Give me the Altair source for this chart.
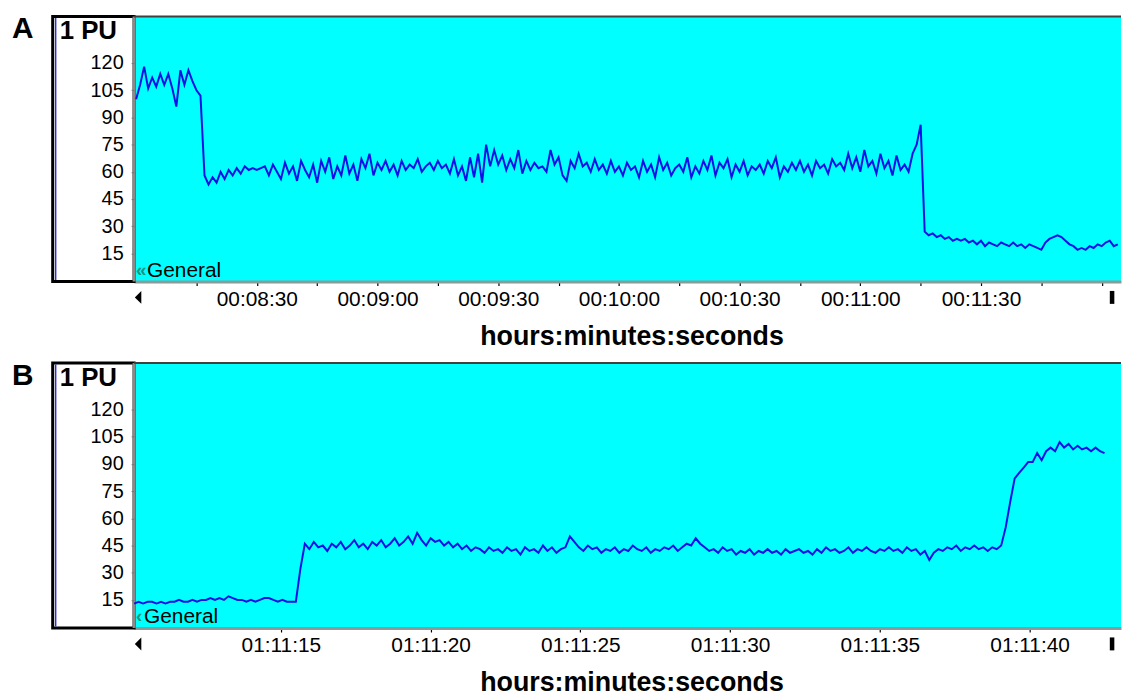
import altair as alt
import pandas as pd

# ---------------- data ----------------
PANEL_LABELS = ["A", "B"]
UNIT_LABEL = "1 PU"
CHANNEL_LABEL = "General"
X_TITLE = "hours:minutes:seconds"
Y_TICKS = [15, 30, 45, 60, 75, 90, 105, 120]

# Panel A: one sample per second, starting 00:08:00 (480 s)
A_START = 480
A_STEP = 1.0
A_VALUES = [
    100, 108, 118, 106, 112, 107, 114, 108, 114, 106, 96, 116, 108, 116, 110, 105, 102, 58,
    53, 57, 54, 60, 56, 61, 58, 62,
    59, 63, 61, 62, 61, 62, 63, 58, 64, 60,
    56, 65, 59, 63, 55, 66, 61, 57, 64, 54,
    66, 60, 68, 56, 63, 58, 69, 59, 64, 55,
    67, 62, 70, 58, 65, 61, 66, 60, 64, 58,
    66, 61, 64, 62, 67, 60, 63, 65, 61, 66,
    62, 64, 59, 67, 58, 63, 55, 68, 57, 70,
    54, 75, 63, 72, 64, 69, 61, 67, 62, 72,
    59, 66, 61, 65, 62, 63, 60, 72, 64, 68,
    58, 55, 66, 62, 70, 63, 65, 60, 67, 61,
    64, 59, 66, 60, 63, 58, 65, 61, 63, 57,
    66, 60, 64, 57, 68, 61, 65, 58, 62, 64,
    60, 68, 57, 63, 59, 66, 61, 69, 58, 65,
    62, 67, 57, 64, 60, 66, 58, 63, 61, 64,
    59, 66, 62, 68, 57, 63, 60, 65, 61, 66,
    60, 64, 58, 66, 62, 64, 59, 67, 63, 65,
    61, 70, 62, 68, 60, 72, 63, 66, 59, 70,
    62, 66, 58, 69, 61, 64, 60, 70, 75, 86,
    27, 25, 26, 24, 25, 23, 24, 22, 23, 22,
    23, 21, 22, 20, 22, 19, 21, 20, 19, 21,
    20, 19, 21, 19, 20, 18, 20, 19, 18, 17,
    21, 23, 24, 25, 24, 22, 20, 19, 17, 18,
    17, 19, 18, 20, 19, 21, 22, 19, 20,
]
A_XDOMAIN = [479.5, 724.8]
A_XTICKS = [495, 510, 525, 540, 555, 570, 585, 600, 615, 630, 645, 660, 675, 690, 705, 720]
A_LABELED = [510, 540, 570, 600, 630, 660, 690]

# Panel B: samples every 0.15 s, starting 01:11:10.1 (4270.1 s)
B_START = 4270.1
B_STEP = 0.15
B_VALUES = [
    13, 14, 13, 14, 14, 13, 14, 13, 14, 14, 15, 14,
    14, 15, 14, 15, 15, 16, 15, 16, 15, 17, 16, 15,
    15, 14, 15, 14, 15, 16, 16, 15, 14, 15, 14, 14,
    14, 32,
    46, 43, 47, 44, 45, 42, 46, 44, 47, 43,
    45, 48, 44, 46, 43, 47, 45, 48, 44, 46,
    49, 45, 47, 50, 46, 52, 48, 45, 49, 47,
    48, 45, 47, 44, 46, 43, 45, 42, 44, 43,
    41, 44, 42, 43, 41, 44, 42, 43, 40, 44,
    42, 43, 41, 45, 42, 44, 41, 43, 44, 50,
    47, 44, 42, 45, 43, 44, 41, 43, 42, 44,
    41, 43, 42, 45, 43, 42, 44, 41, 43, 42,
    44, 43, 45, 42, 44, 46, 45, 49, 46, 44,
    42, 43, 41, 44, 42, 43, 40, 42, 41, 43,
    40, 42, 41, 43, 41, 42, 40, 43, 41, 42,
    43, 41, 42, 40, 43, 41, 44, 42, 43, 41,
    42, 44, 41, 43, 42, 44, 42, 41, 43, 42,
    44, 42, 43, 41, 44, 42, 43, 40, 42, 37,
    41, 43, 42, 44, 43, 45, 42, 44, 43, 45,
    43, 44, 42, 44, 43,
    45, 55, 69, 82, 85, 88, 91, 91, 96, 92, 97, 99, 97, 102, 99, 101, 98, 100, 98, 99, 97, 99, 97, 96,
]
B_XDOMAIN = [4270.1, 4303.05]
B_XTICKS = [4275, 4280, 4285, 4290, 4295, 4300]

Y_DOMAIN = [-0.5, 145.7]

# ---------------- layout / style ----------------
W, H = 994, 267
FONT = "Liberation Sans"
LINE_BLUE = "#1010e6"
CYAN = "#00ffff"


def frame(values, start, step):
    return pd.DataFrame({"t": [start + i * step for i in range(len(values))], "v": values})


def panel(df, xdomain, xticks, label_expr, letter, icon, gen_x):
    one = alt.Data(values=[{"k": 0}])
    base = alt.Chart(one)
    box = base.mark_rect(fill="white", stroke="black", strokeWidth=3).encode(
        x=alt.value(-82), x2=alt.value(0), y=alt.value(0), y2=alt.value(H))
    blue = base.mark_rule(color="#3030d0", strokeWidth=1.5).encode(
        x=alt.value(-79), y=alt.value(1.5), y2=alt.value(H - 1.5))
    leftb = base.mark_rule(color="#8a8a8a", strokeWidth=3).encode(
        x=alt.value(0), y=alt.value(0), y2=alt.value(H))
    topb = base.mark_rule(color="#404040", strokeWidth=2).encode(
        x=alt.value(0), x2=alt.value(W), y=alt.value(0))
    line = alt.Chart(df).mark_line(color=LINE_BLUE, strokeWidth=2).encode(
        x=alt.X("t:Q",
                scale=alt.Scale(domain=xdomain, nice=False, zero=False),
                axis=alt.Axis(values=xticks, labelExpr=label_expr, title=X_TITLE,
                              grid=False, domainColor="#8c9a9a", domainWidth=3,
                              tickColor="black", tickSize=4, tickWidth=1.2,
                              labelPadding=3, labelFontSize=21, labelFont=FONT,
                              labelColor="black", labelFlush=False, labelOverlap=False,
                              titleFont=FONT, titleFontSize=27, titleFontWeight="bold",
                              titleColor="black", titlePadding=14, titleX=W / 2 + 4)),
        y=alt.Y("v:Q",
                scale=alt.Scale(domain=Y_DOMAIN, nice=False, zero=False),
                axis=alt.Axis(values=Y_TICKS, title=None, grid=False, domain=False,
                              tickColor="#777777", tickSize=3, labelPadding=8,
                              labelFontSize=20, labelFont=FONT, labelColor="black",
                              zindex=1)),
    )
    letter_t = base.mark_text(text=letter, font=FONT, fontSize=30, fontWeight="bold",
                              align="left", baseline="alphabetic", color="black").encode(
        x=alt.value(-123), y=alt.value(22))
    unit_t = base.mark_text(text=UNIT_LABEL, font=FONT, fontSize=26, fontWeight="bold",
                            align="left", baseline="alphabetic", color="black").encode(
        x=alt.value(-75), y=alt.value(23))
    icon_t = base.mark_text(text=icon, font=FONT, fontSize=19, fontWeight="bold",
                            align="left", baseline="alphabetic", color="#1f8f7f").encode(
        x=alt.value(2), y=alt.value(H - 6))
    gen_t = base.mark_text(text=CHANNEL_LABEL, font=FONT, fontSize=21,
                           align="left", baseline="alphabetic", color="black").encode(
        x=alt.value(gen_x), y=alt.value(H - 5))
    lmark = base.mark_point(shape="M0.5,-1L-0.5,0L0.5,1Z", filled=True, color="black",
                            size=170, opacity=1).encode(x=alt.value(4), y=alt.value(H + 16))
    rmark = base.mark_point(shape="M-0.35,-1L0.35,-1L0.35,1L-0.35,1Z", filled=True,
                            color="black", size=170, opacity=1).encode(
        x=alt.value(W - 9), y=alt.value(H + 16))
    return alt.layer(box, blue, leftb, line, topb, letter_t, unit_t, icon_t, gen_t,
                     lmark, rmark).properties(width=W, height=H)


fmt = "utcFormat(datum.value * 1000, '%H:%M:%S')"
a_expr = ("(datum.value % 30 == 0 && datum.value >= " + str(min(A_LABELED)) +
          " && datum.value <= " + str(max(A_LABELED)) + ") ? " + fmt + " : ''")
b_expr = fmt

pa = panel(frame(A_VALUES, A_START, A_STEP), A_XDOMAIN, A_XTICKS, a_expr,
           PANEL_LABELS[0], "\u00ab", 13)
pb = panel(frame(B_VALUES, B_START, B_STEP), B_XDOMAIN, B_XTICKS, b_expr,
           PANEL_LABELS[1], "\u2039", 10)

chart = alt.vconcat(pa, pb, spacing=82, bounds="flush").configure(
    font=FONT, padding={"left": 4, "top": 4, "right": 0, "bottom": 0}, background="white"
).configure_view(fill=CYAN, strokeWidth=0)

chart.save("out.html", embed_options={"renderer": "svg", "actions": False})
